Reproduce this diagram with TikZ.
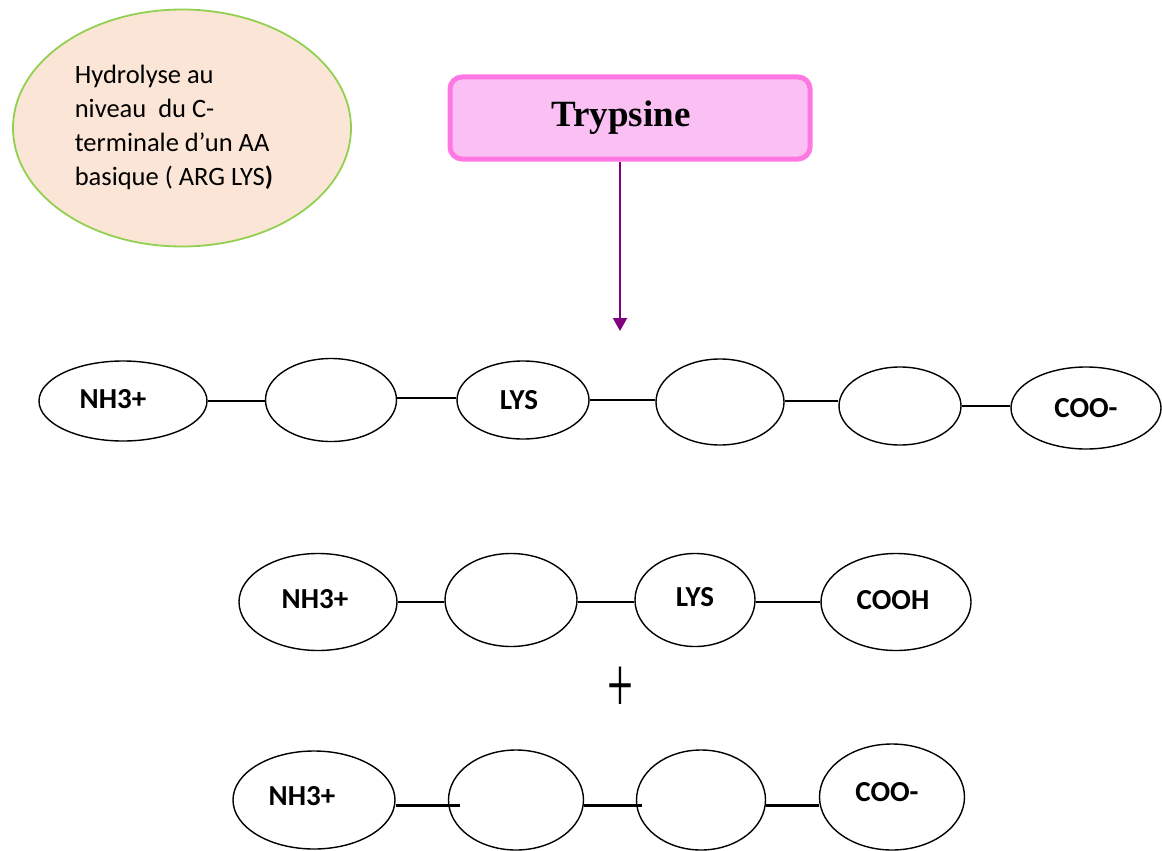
\documentclass[tikz,border=0pt]{standalone}
\usepackage{fontspec}
\setmainfont{Carlito}
\newfontfamily\trypfont{Liberation Serif}
\usetikzlibrary{shapes.geometric, arrows.meta}

\definecolor{peach}{HTML}{FBE5D6}
\definecolor{leafgreen}{HTML}{92D050}
\definecolor{pinkline}{HTML}{FF77E3}
\definecolor{pinkfill}{HTML}{FBC0F3}
\definecolor{enzpurple}{HTML}{800080}

% text nudged inside an ellipse: dx, dy, text
\newcommand{\offtext}[3]{\makebox[0pt]{\hspace*{#1}\raisebox{#2}{#3}\hspace*{-#1}}}

\begin{document}
\begin{tikzpicture}[x=1pt, y=-1pt,
    aa/.style={draw, ellipse, line width=1.4pt, inner sep=0pt, font=\fontsize{29}{29}\selectfont\bfseries},
    bond/.style={line width=1.4pt},
    bigbond/.style={line width=3pt}]
    \useasboundingbox (0,0) rectangle (1162,851);

    % note and enzyme
    \node (note) [draw=leafgreen, fill=peach, ellipse, line width=1.8pt, minimum width=338pt, minimum height=237pt, inner sep=0pt, font=\fontsize{26.5}{34}\selectfont] at (182,128) {\offtext{-8pt}{-2pt}{\begin{tabular}{@{}l@{}}Hydrolyse au\\niveau~ du C-\\terminale d’un AA\\basique ( ARG LYS\textbf{)}\end{tabular}}};
    \node (tryp) [draw=pinkline, fill=pinkfill, rounded corners=12pt, line width=5pt, minimum width=360pt, minimum height=82pt, font=\trypfont\fontsize{37}{37}\selectfont\bfseries] at (630,118) {\offtext{-9pt}{0pt}{Trypsine}};
    \coordinate (cut) at (620,331);
    \draw[enzpurple, line width=2pt, -{Triangle[width=14pt,length=13pt]}] (tryp.south -| cut) -- (cut);

    % peptide
    \node (r1a) [aa, minimum width=168pt, minimum height=80pt] at (123,401) {\offtext{-10pt}{5pt}{NH3+}};
    \node (r1b) [aa, minimum width=131pt, minimum height=83pt] at (331,400) {};
    \node (r1c) [aa, minimum width=132pt, minimum height=78pt] at (523,400) {\offtext{-4pt}{0pt}{LYS}};
    \node (r1d) [aa, minimum width=128pt, minimum height=86pt] at (720,402) {};
    \node (r1e) [aa, minimum width=122pt, minimum height=78pt] at (900,406) {};
    \node (r1f) [aa, minimum width=150pt, minimum height=82pt] at (1086,408) {COO-};

    \draw[bond] (r1a.east) -- (r1a.east -| r1b.west);
    \draw[bond] ([yshift=2pt]r1b.east) -- ([yshift=2pt]r1b.east -| r1c.west);
    \draw[bond] (r1c.east) -- (r1c.east -| r1d.west);
    \draw[bond] ([yshift=1pt]r1d.east) -- ([yshift=1pt]r1d.east -| r1e.west);
    \draw[bond] (r1e.east) -- (r1e.east -| r1f.west);

    % first fragment
    \node (r2a) [aa, minimum width=158pt, minimum height=97pt] at (318,602) {\offtext{-3pt}{7pt}{NH3+}};
    \node (r2b) [aa, minimum width=132pt, minimum height=93pt] at (511,600) {};
    \node (r2c) [aa, minimum width=120pt, minimum height=93pt] at (695,600) {\offtext{0pt}{6pt}{LYS}};
    \node (r2d) [aa, minimum width=150pt, minimum height=97pt] at (896,602) {\offtext{-3pt}{5pt}{COOH}};

    \draw[bond] (r2a.east) -- (r2a.east -| r2b.west);
    \draw[bond] ([yshift=-2pt]r2b.east) -- ([yshift=-2pt]r2b.east -| r2c.west);
    \draw[bond] ([yshift=-2pt]r2c.east) -- ([yshift=-2pt]r2c.east -| r2d.west);

    \node (plus) at (620,690) {\scalebox{1}[1.75]{\trypfont\fontsize{46}{46}\selectfont +}};

    % second fragment
    \node (r3a) [aa, minimum width=162pt, minimum height=98pt] at (314,800) {\offtext{-12pt}{8pt}{NH3+}};
    \node (r3b) [aa, minimum width=135pt, minimum height=100pt] at (516,800) {};
    \node (r3c) [aa, minimum width=129pt, minimum height=100pt] at (701,800) {};
    \node (r3d) [aa, minimum width=145pt, minimum height=106pt] at (892,797) {\offtext{-5pt}{11pt}{COO-}};

    \draw[bigbond] ([yshift=-5pt]r3a.east) -- ([xshift=12pt, yshift=-5pt]r3b.west);
    \draw[bigbond] ([yshift=-5pt]r3b.east) -- ([xshift=6pt, yshift=-5pt]r3c.west);
    \draw[bigbond] ([yshift=-5pt]r3c.east) -- ([yshift=-5pt]r3c.east -| r3d.west);
\end{tikzpicture}
\end{document}
